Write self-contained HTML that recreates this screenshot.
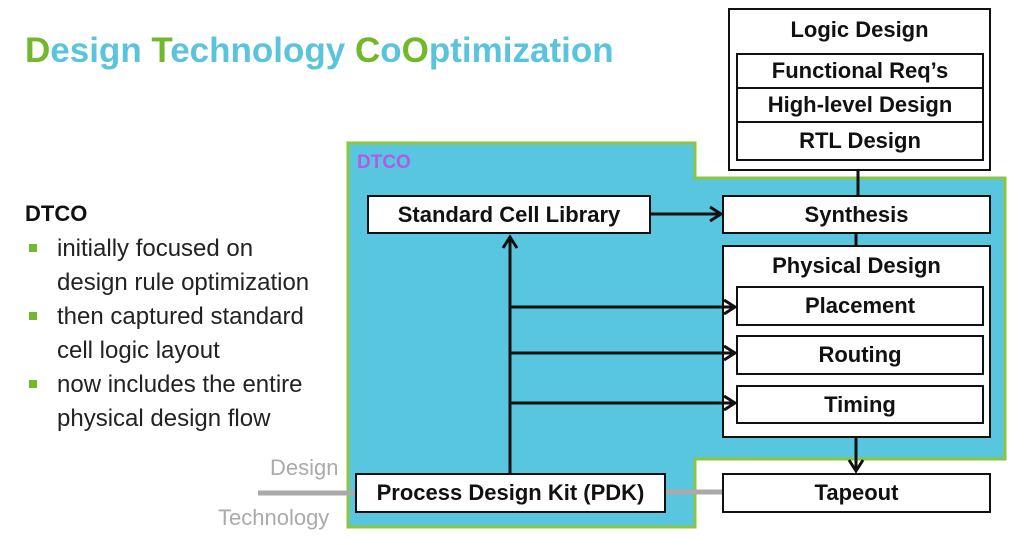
<!DOCTYPE html><html><head><style>
body{margin:0;width:1026px;height:545px;background:#fff;overflow:hidden;position:relative;font-family:"Liberation Sans",sans-serif}
.t{position:absolute;white-space:nowrap}
.b{position:absolute;box-sizing:border-box;border:2.5px solid #111;background:#fff;font-weight:bold;font-size:21px;text-align:center;color:#111}
</style></head><body>
<div class="t" style="left:25px;top:31px;font-size:35px;font-weight:bold;color:#5bc4dd"><span style="color:#72b82c">D</span>esign <span style="color:#72b82c">T</span>echnology <span style="color:#72b82c">C</span>o<span style="color:#72b82c">O</span>ptimization</div>
<div class="t" style="left:25px;top:201px;font-size:22px;font-weight:bold;color:#111">DTCO</div>
<div style="position:absolute;left:27px;top:232px;font-size:24px;line-height:34px;color:#222">
<div style="position:relative;padding-left:30px"><span style="position:absolute;left:2px;top:12px;width:8px;height:8px;background:#72b82c"></span>initially focused on<br>design rule optimization</div>
<div style="position:relative;padding-left:30px"><span style="position:absolute;left:2px;top:12px;width:8px;height:8px;background:#72b82c"></span>then captured standard<br>cell logic layout</div>
<div style="position:relative;padding-left:30px"><span style="position:absolute;left:2px;top:12px;width:8px;height:8px;background:#72b82c"></span>now includes the entire<br>physical design flow</div>
</div>
<svg style="position:absolute;left:0;top:0" width="1026" height="545">
<polygon points="348,143 695,143 695,178 1005,178 1005,459 695,459 695,527 348,527" fill="#59c6e0" stroke="#8cc63f" stroke-width="3"/>
<line x1="258" y1="493" x2="360" y2="493" stroke="#aaa" stroke-width="5"/>
<line x1="660" y1="492" x2="725" y2="492" stroke="#aaa" stroke-width="5"/>
</svg>
<div class="t" style="left:357px;top:152px;font-size:19px;font-weight:bold;color:#b05ce0">DTCO</div>
<div class="t" style="left:270px;top:455px;font-size:22px;color:#aaa">Design</div>
<div class="t" style="left:218px;top:505px;font-size:22px;color:#aaa">Technology</div>
<div class="b" style="left:728px;top:8px;width:263px;height:163px;padding-top:7px;font-size:22px">Logic Design</div>
<div class="b" style="left:736px;top:53px;width:248px;height:36px;line-height:32px;font-size:22px">Functional Req’s</div>
<div class="b" style="left:736px;top:87px;width:248px;height:36px;line-height:32px;font-size:22px">High-level Design</div>
<div class="b" style="left:736px;top:121px;width:248px;height:40px;line-height:36px;font-size:22px">RTL Design</div>
<div class="b" style="left:367px;top:195px;width:284px;height:39px;line-height:35px;font-size:22px">Standard Cell Library</div>
<div class="b" style="left:722px;top:195px;width:269px;height:39px;line-height:35px;font-size:22px">Synthesis</div>
<div class="b" style="left:722px;top:245px;width:269px;height:193px;padding-top:6px;font-size:22px">Physical Design</div>
<div class="b" style="left:736px;top:286px;width:248px;height:40px;line-height:36px;font-size:22px">Placement</div>
<div class="b" style="left:736px;top:335px;width:248px;height:40px;line-height:36px;font-size:22px">Routing</div>
<div class="b" style="left:736px;top:385px;width:248px;height:39px;line-height:35px;font-size:22px">Timing</div>
<div class="b" style="left:355px;top:473px;width:311px;height:40px;line-height:36px;font-size:22px">Process Design Kit (PDK)</div>
<div class="b" style="left:722px;top:473px;width:269px;height:40px;line-height:36px;font-size:22px">Tapeout</div>
<svg style="position:absolute;left:0;top:0" width="1026" height="545">
<g stroke="#111" stroke-width="3" fill="none">
<line x1="510" y1="474" x2="510" y2="238"/><polyline points="503,248 510,237 517,248"/>
<line x1="651" y1="214" x2="720" y2="214"/><polyline points="710,207 721,214 710,221"/>
<line x1="510" y1="307" x2="734" y2="307"/><polyline points="724,300 735,307 724,314"/>
<line x1="510" y1="353" x2="734" y2="353"/><polyline points="724,346 735,353 724,360"/>
<line x1="510" y1="403" x2="734" y2="403"/><polyline points="724,396 735,403 724,410"/>
<line x1="858" y1="170" x2="858" y2="196"/>
<line x1="856" y1="233" x2="856" y2="246"/>
<line x1="856" y1="437" x2="856" y2="470"/><polyline points="849,460 856,471 863,460"/>
</g>
</svg>
</body></html>
